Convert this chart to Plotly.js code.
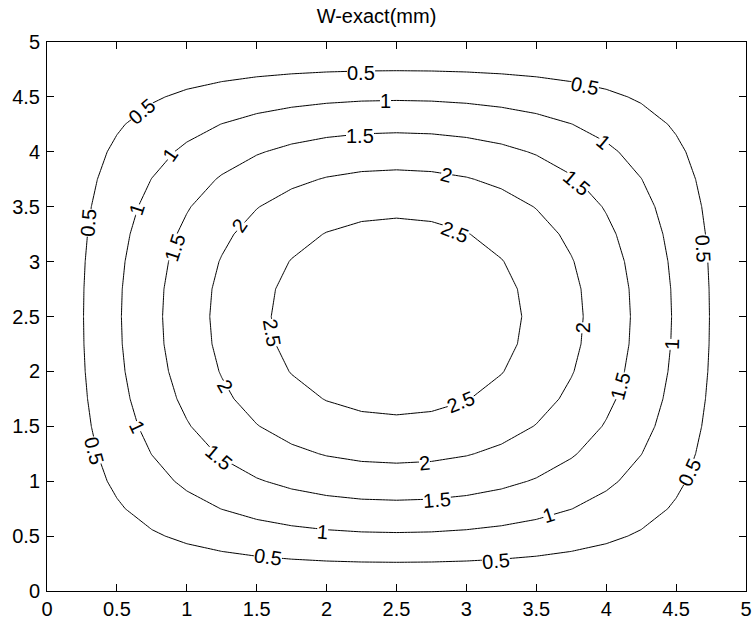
<!DOCTYPE html>
<html>
<head>
<meta charset="utf-8">
<script src="https://cdn.plot.ly/plotly-3.0.1.min.js"></script>
<style>html,body{margin:0;padding:0;background:#fff;}#chart{width:753px;height:622px;}</style>
</head>
<body>
<div id="chart"></div>
<script>
// grid coordinates (0.25 spacing)
const xCoords = [0,0.25,0.5,0.75,1,1.25,1.5,1.75,2,2.25,2.5,2.75,3,3.25,3.5,3.75,4,4.25,4.5,4.75,5];
const yCoords = [0,0.25,0.5,0.75,1,1.25,1.5,1.75,2,2.25,2.5,2.75,3,3.25,3.5,3.75,4,4.25,4.5,4.75,5];
// deflection W (mm), rows follow yCoords
const wExact = [
[0,0,0,0,0,0,0,0,0,0,0,0,0,0,0,0,0,0,0,0,0],
[0,0.080,0.157,0.229,0.294,0.350,0.397,0.433,0.459,0.474,0.479,0.474,0.459,0.433,0.397,0.350,0.294,0.229,0.157,0.080,0],
[0,0.157,0.309,0.451,0.579,0.689,0.781,0.852,0.903,0.934,0.944,0.934,0.903,0.852,0.781,0.689,0.579,0.451,0.309,0.157,0],
[0,0.229,0.451,0.658,0.845,1.007,1.141,1.245,1.320,1.365,1.379,1.365,1.320,1.245,1.141,1.007,0.845,0.658,0.451,0.229,0],
[0,0.294,0.579,0.845,1.085,1.293,1.466,1.601,1.697,1.755,1.774,1.755,1.697,1.601,1.466,1.293,1.085,0.845,0.579,0.294,0],
[0,0.350,0.689,1.007,1.293,1.542,1.749,1.910,2.026,2.095,2.118,2.095,2.026,1.910,1.749,1.542,1.293,1.007,0.689,0.350,0],
[0,0.397,0.781,1.141,1.466,1.749,1.984,2.168,2.300,2.379,2.406,2.379,2.300,2.168,1.984,1.749,1.466,1.141,0.781,0.397,0],
[0,0.433,0.852,1.245,1.601,1.910,2.168,2.371,2.516,2.603,2.632,2.603,2.516,2.371,2.168,1.910,1.601,1.245,0.852,0.433,0],
[0,0.459,0.903,1.320,1.697,2.026,2.300,2.516,2.671,2.763,2.794,2.763,2.671,2.516,2.300,2.026,1.697,1.320,0.903,0.459,0],
[0,0.474,0.934,1.365,1.755,2.095,2.379,2.603,2.763,2.860,2.892,2.860,2.763,2.603,2.379,2.095,1.755,1.365,0.934,0.474,0],
[0,0.479,0.944,1.379,1.774,2.118,2.406,2.632,2.794,2.892,2.924,2.892,2.794,2.632,2.406,2.118,1.774,1.379,0.944,0.479,0],
[0,0.474,0.934,1.365,1.755,2.095,2.379,2.603,2.763,2.860,2.892,2.860,2.763,2.603,2.379,2.095,1.755,1.365,0.934,0.474,0],
[0,0.459,0.903,1.320,1.697,2.026,2.300,2.516,2.671,2.763,2.794,2.763,2.671,2.516,2.300,2.026,1.697,1.320,0.903,0.459,0],
[0,0.433,0.852,1.245,1.601,1.910,2.168,2.371,2.516,2.603,2.632,2.603,2.516,2.371,2.168,1.910,1.601,1.245,0.852,0.433,0],
[0,0.397,0.781,1.141,1.466,1.749,1.984,2.168,2.300,2.379,2.406,2.379,2.300,2.168,1.984,1.749,1.466,1.141,0.781,0.397,0],
[0,0.350,0.689,1.007,1.293,1.542,1.749,1.910,2.026,2.095,2.118,2.095,2.026,1.910,1.749,1.542,1.293,1.007,0.689,0.350,0],
[0,0.294,0.579,0.845,1.085,1.293,1.466,1.601,1.697,1.755,1.774,1.755,1.697,1.601,1.466,1.293,1.085,0.845,0.579,0.294,0],
[0,0.229,0.451,0.658,0.845,1.007,1.141,1.245,1.320,1.365,1.379,1.365,1.320,1.245,1.141,1.007,0.845,0.658,0.451,0.229,0],
[0,0.157,0.309,0.451,0.579,0.689,0.781,0.852,0.903,0.934,0.944,0.934,0.903,0.852,0.781,0.689,0.579,0.451,0.309,0.157,0],
[0,0.080,0.157,0.229,0.294,0.350,0.397,0.433,0.459,0.474,0.479,0.474,0.459,0.433,0.397,0.350,0.294,0.229,0.157,0.080,0],
[0,0,0,0,0,0,0,0,0,0,0,0,0,0,0,0,0,0,0,0,0]
];
const contourLevels = {start: 0.5, end: 2.5, size: 0.5};
const tickValues = [0,0.5,1,1.5,2,2.5,3,3.5,4,4.5,5];
const tickLabels = ["0","0.5","1","1.5","2","2.5","3","3.5","4","4.5","5"];
const chartTitle = "W-exact(mm)";

// contour label texts (clabel-style) and where they sit
const labelText  = ["0.5","0.5","0.5","0.5","0.5","0.5","0.5","0.5","0.5",
                    "1","1","1","1","1","1","1","1",
                    "1.5","1.5","1.5","1.5","1.5","1.5",
                    "2","2","2","2","2",
                    "2.5","2.5","2.5"];
const labelX     = [2.245,3.85,0.683,0.297,0.333,1.58,3.21,4.60,4.69,
                    2.42,3.98,0.88,0.643,0.643,1.97,3.59,4.47,
                    2.24,3.79,0.918,1.227,2.79,4.10,
                    2.86,1.38,1.276,2.70,3.84,
                    2.92,1.61,2.96];
const labelY     = [4.72,4.60,4.37,3.35,1.28,0.31,0.27,1.08,3.12,
                    4.46,4.09,3.97,3.48,1.49,0.54,0.69,2.25,
                    4.14,3.72,3.13,1.22,0.83,1.87,
                    3.79,3.33,1.87,1.17,2.40,
                    3.27,2.35,1.72];
const labelAngle = [0,12,-40,-85,75,8,-5,-65,87,
                    0,40,-55,-72,65,4,-18,-88,
                    0,40,-72,40,-4,-75,
                    15,-55,60,-5,-90,
                    22,80,-22];

const FONT = "Liberation Sans, Arial, Helvetica, sans-serif";
const FS = 20;

const trace = {
  type: 'contour',
  x: xCoords,
  y: yCoords,
  z: wExact,
  showscale: false,
  hoverinfo: 'skip',
  autocontour: false,
  contours: {
    start: contourLevels.start,
    end: contourLevels.end,
    size: contourLevels.size,
    coloring: 'none',
    showlabels: false
  },
  line: {color: '#000', width: 1, smoothing: 0}
};

function axis() {
  return {
    range: [0, 5],
    tickmode: 'array',
    tickvals: tickValues,
    ticktext: tickLabels,
    ticks: 'inside',
    ticklen: 7,
    tickwidth: 1,
    tickcolor: '#000',
    showline: true,
    linecolor: '#000',
    linewidth: 1,
    mirror: 'ticks',
    showgrid: false,
    zeroline: false,
    tickfont: {family: FONT, size: FS, color: '#000'}
  };
}

const xa = axis();
const ya = axis();
ya.ticklabelstandoff = 2;

const annotations = labelText.map((t, i) => ({
  x: labelX[i], y: labelY[i], xref: 'x', yref: 'y',
  text: t, showarrow: false, textangle: labelAngle[i],
  xanchor: 'center', yanchor: 'middle',
  bgcolor: '#fff', borderpad: 0, borderwidth: 0,
  font: {family: FONT, size: FS, color: '#000'}
}));

const layout = {
  width: 753,
  height: 622,
  margin: {l: 47, r: 7, t: 42, b: 31, pad: 0},
  paper_bgcolor: '#fff',
  plot_bgcolor: '#fff',
  showlegend: false,
  title: {text: chartTitle, font: {family: FONT, size: FS, color: '#000'}, x: 0.5, xanchor: 'center', y: 0.975, yanchor: 'middle'},
  xaxis: xa,
  yaxis: ya,
  annotations: annotations
};

Plotly.newPlot('chart', [trace], layout, {displayModeBar: false, staticPlot: true});
</script>
</body>
</html>
